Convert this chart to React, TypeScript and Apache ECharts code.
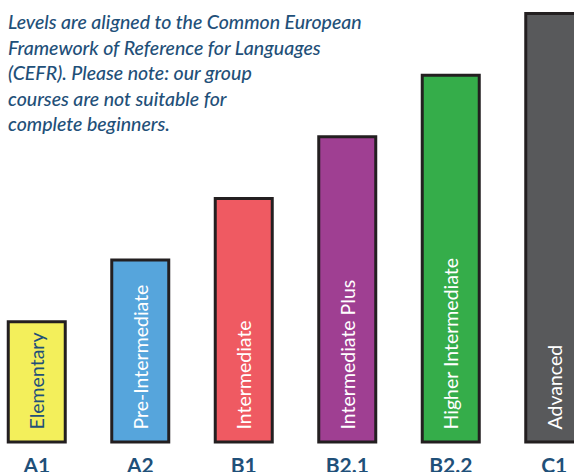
import React, { useEffect, useRef } from "react";
import * as echarts from "echarts";

const levels = ["A1", "A2", "B1", "B2.1", "B2.2", "C1"];
const names = ["Elementary", "Pre-Intermediate", "Intermediate", "Intermediate Plus", "Higher Intermediate", "Advanced"];
const values = [2, 3, 4, 5, 6, 7];
const colors = ["#f3ef5b", "#56a5dc", "#ef5a62", "#9f3f92", "#35ad4a", "#58595b"];
const labelColors = ["#1f5079", "#ffffff", "#ffffff", "#ffffff", "#ffffff", "#ffffff"];
const note =
  "Levels are aligned to the Common European\nFramework of Reference for Languages\n(CEFR). Please note: our group\ncourses are not suitable for\ncomplete beginners.";

export default function App() {
  const ref = useRef<HTMLDivElement>(null);
  useEffect(() => {
    if (!ref.current) return;
    const chart = echarts.init(ref.current, null, { renderer: "svg" });
    chart.setOption({
      animation: false,
      title: {
        text: note,
        left: 21,
        top: 4,
        padding: [5, 2],
        textStyle: {
          fontFamily: "Lato",
          fontStyle: "italic",
          fontWeight: 500,
          fontSize: 19.5,
          lineHeight: 25.5,
          color: "#1f5079",
        },
      },
      grid: { left: 0, right: 0, top: 12, bottom: 28.5, outerBoundsMode: "none", containLabel: false },
      xAxis: {
        type: "category",
        data: levels,
        axisLine: { show: false },
        axisTick: { show: false },
        axisLabel: {
          margin: 10,
          fontFamily: "Lato",
          fontWeight: "bold",
          fontSize: 21,
          color: "#1f5079",
          verticalAlign: "top",
        },
      },
      yAxis: { type: "value", min: 0, max: 7, show: false, splitLine: { show: false } },
      series: [
        {
          type: "bar",
          barWidth: 60,
          data: values.map((v, i) => ({
            value: v,
            itemStyle: { color: colors[i], borderColor: "#231f20", borderWidth: 3 },
            label: {
              show: true,
              formatter: names[i],
              position: "insideBottom",
              rotate: 90,
              align: "left",
              verticalAlign: "middle",
              distance: 14,
              fontFamily: "Lato",
              fontSize: 19.5,
              color: labelColors[i],
            },
          })),
        },
      ],
    });
    return () => chart.dispose();
  }, []);
  return (
    <div style={{ position: "fixed", left: 0, top: 0, width: 574, height: 472, overflow: "hidden", background: "#fff" }}>
      <div ref={ref} style={{ position: "absolute", left: -15, top: 0, width: 621, height: 472 }} />
    </div>
  );
}
